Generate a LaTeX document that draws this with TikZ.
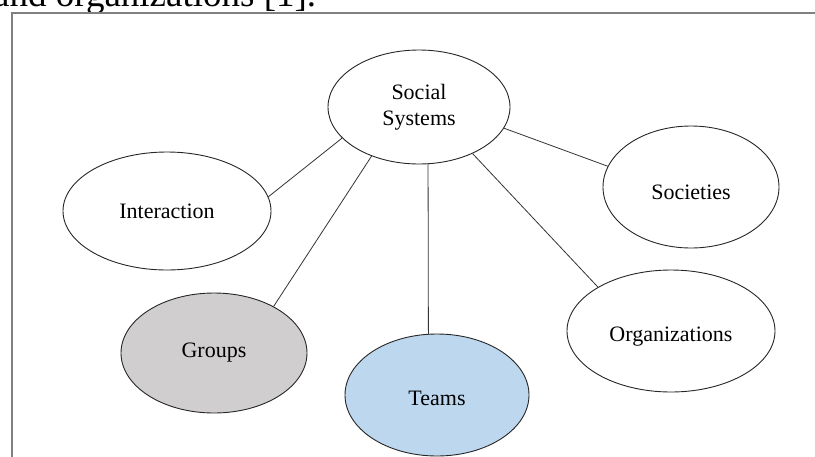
\documentclass[tikz,border=0pt]{standalone}
\usepackage{fontspec}
\setmainfont{Liberation Serif}
\usetikzlibrary{shapes.geometric}
\definecolor{groupgray}{RGB}{208,206,207}
\definecolor{teamblue}{RGB}{189,215,238}
\definecolor{framegray}{RGB}{128,128,128}
\begin{document}
\begin{tikzpicture}[x=1pt,y=-1pt,
  bub/.style={ellipse,draw=black!85,line width=0.9pt,inner sep=0pt,
    font=\fontsize{22}{26}\selectfont},
  link/.style={draw=black!80,line width=0.8pt}]
\useasboundingbox (0,0) rectangle (815,456);
\clip (0,0) rectangle (815,456);
\node[anchor=base west,font=\fontsize{37}{40}\selectfont,inner sep=0pt] (cap) at (-7,6) {and organizations [1].};
\draw[framegray,line width=1.2pt] (12,13) rectangle (830,470);
\node[bub,align=center,minimum width=182pt,minimum height=114pt] (ss) at (419,107) {Social\\Systems};
\node[bub,minimum width=208pt,minimum height=118pt] (int) at (167,211) {Interaction};
\node[bub,fill=groupgray,minimum width=186pt,minimum height=120pt] (grp) at (214,353) {Groups};
\node[bub,fill=teamblue,minimum width=184pt,minimum height=122pt,text height=21pt,text depth=0pt] (tms) at (437,395) {Teams};
\node[bub,minimum width=208pt,minimum height=122pt,text height=24pt,text depth=4pt] (org) at (671,331) {Organizations};
\node[bub,minimum width=176pt,minimum height=122pt,text height=24pt,text depth=0pt] (soc) at (691,187) {Societies};
\draw[link] (ss.202) -- (int.8);
\draw[link] (ss.226) -- (grp.38);
\draw[link] (ss.279) -- (tms.98);
\draw[link] (ss.319) -- (org.149);
\draw[link] (ss.346) -- (soc.166);
\end{tikzpicture}
\end{document}
